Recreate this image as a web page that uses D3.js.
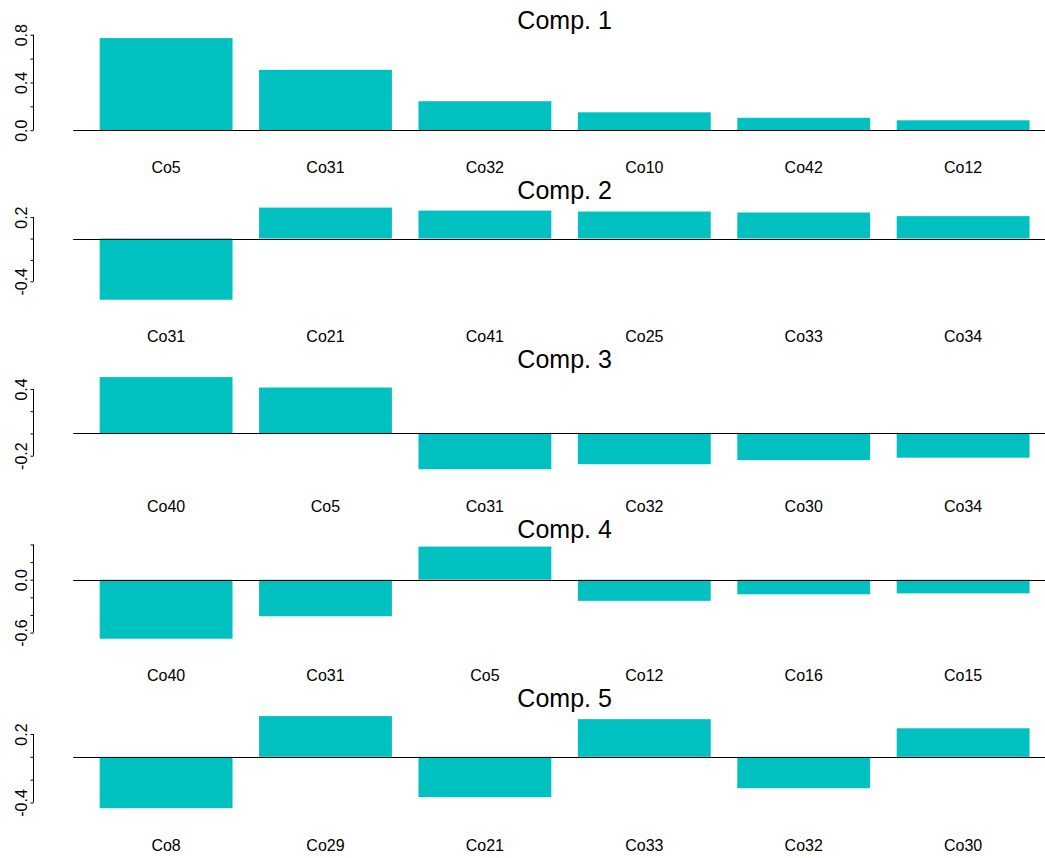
<!DOCTYPE html>
<html>
<head>
<meta charset="utf-8">
<script src="https://cdn.jsdelivr.net/npm/d3@7"></script>
<style>
  html, body { margin: 0; padding: 0; background: #fff; }
  svg { display: block; }
  text { font-family: "Liberation Sans", Arial, sans-serif; fill: #000; }
</style>
</head>
<body>
<svg id="chart" width="1045" height="858"></svg>
<script>
// Top six loadings (by absolute size) for each principal component
const componentTitles = ["Comp. 1", "Comp. 2", "Comp. 3", "Comp. 4", "Comp. 5"];

const comp1Names = ["Co5", "Co31", "Co32", "Co10", "Co42", "Co12"];
const comp1Values = [0.772, 0.506, 0.243, 0.150, 0.104, 0.083];

const comp2Names = ["Co31", "Co21", "Co41", "Co25", "Co33", "Co34"];
const comp2Values = [-0.572, 0.289, 0.261, 0.252, 0.243, 0.209];

const comp3Names = ["Co40", "Co5", "Co31", "Co32", "Co30", "Co34"];
const comp3Values = [0.507, 0.413, -0.322, -0.277, -0.240, -0.218];

const comp4Names = ["Co40", "Co31", "Co5", "Co12", "Co16", "Co15"];
const comp4Values = [-0.670, -0.415, 0.376, -0.240, -0.166, -0.155];

const comp5Names = ["Co8", "Co29", "Co21", "Co33", "Co32", "Co30"];
const comp5Values = [-0.450, 0.357, -0.353, 0.330, -0.275, 0.250];

// y-axis tick positions and the subset that carries a label
const comp1Ticks = [0.0, 0.2, 0.4, 0.6, 0.8];
const comp1TickLabels = [0.0, 0.4, 0.8];
const comp2Ticks = [-0.4, -0.2, 0.0, 0.2];
const comp2TickLabels = [-0.4, 0.2];
const comp3Ticks = [-0.2, 0.0, 0.2, 0.4];
const comp3TickLabels = [-0.2, 0.4];
const comp4Ticks = [-0.6, -0.4, -0.2, 0.0, 0.2, 0.4];
const comp4TickLabels = [-0.6, 0.0];
const comp5Ticks = [-0.4, -0.2, 0.0, 0.2];
const comp5TickLabels = [-0.4, 0.2];

const panels = [
  { names: comp1Names, values: comp1Values, ticks: comp1Ticks, labels: comp1TickLabels },
  { names: comp2Names, values: comp2Values, ticks: comp2Ticks, labels: comp2TickLabels },
  { names: comp3Names, values: comp3Values, ticks: comp3Ticks, labels: comp3TickLabels },
  { names: comp4Names, values: comp4Values, ticks: comp4Ticks, labels: comp4TickLabels },
  { names: comp5Names, values: comp5Values, ticks: comp5Ticks, labels: comp5TickLabels }
];

const W = 1045;
const barFill = "#00c1c0";
const firstTop = 34.4, panelStep = 169.5, plotH = 99.5;
const plotLeft = 73.1, plotRight = 1056.1;
const axisX = 33.5;
// plain hyphen for negative numbers
const fmt = d => (Math.abs(d) < 1e-9 ? 0 : d).toFixed(1);

const svg = d3.select("#chart");

panels.forEach((p, i) => {
  const top = firstTop + panelStep * i;
  const bottom = top + plotH;

  // barplot-style limits: range including zero, padded 4% each side
  const lo = Math.min(0, d3.min(p.values));
  const hi = Math.max(0, d3.max(p.values));
  const pad = (hi - lo) * 0.04;
  const y = d3.scaleLinear().domain([lo - pad, hi + pad]).range([bottom, top]);

  const x = d3.scaleBand()
    .domain(p.names)
    .range([plotLeft, plotRight])
    .paddingInner(0.2 / 1.2)
    .paddingOuter(0.2 / 1.2);

  const g = svg.append("g").attr("class", "panel");

  // bars
  g.selectAll("rect.bar")
    .data(p.values.map((v, k) => ({ name: p.names[k], value: v })))
    .join("rect")
    .attr("class", "bar")
    .attr("x", d => x(d.name))
    .attr("width", x.bandwidth())
    .attr("y", d => y(Math.max(0, d.value)))
    .attr("height", d => Math.abs(y(d.value) - y(0)))
    .attr("fill", barFill);

  // zero line across the plot region
  g.append("line")
    .attr("x1", plotLeft).attr("x2", Math.min(plotRight, W))
    .attr("y1", Math.round(y(0)) + 0.5).attr("y2", Math.round(y(0)) + 0.5)
    .attr("stroke", "#000").attr("stroke-width", 1);

  // category labels below each bar
  g.selectAll("text.cat")
    .data(p.names)
    .join("text")
    .attr("class", "cat")
    .attr("x", d => x(d) + x.bandwidth() / 2)
    .attr("y", bottom + 38.8)
    .attr("text-anchor", "middle")
    .attr("font-size", 16)
    .text(d => d);

  // panel title
  g.append("text")
    .attr("x", (plotLeft + plotRight) / 2)
    .attr("y", top - 5)
    .attr("text-anchor", "middle")
    .attr("font-size", 25)
    .text(componentTitles[i]);

  // y axis: ticks to the left, rotated labels
  const axis = d3.axisLeft(y)
    .tickValues(p.ticks)
    .tickSize(3)
    .tickPadding(4)
    .tickFormat(d => p.labels.some(l => Math.abs(l - d) < 1e-9) ? fmt(d) : "");

  const ax = g.append("g")
    .attr("transform", `translate(${axisX},0)`)
    .call(axis);

  ax.select(".domain")
    .attr("d", `M0,${y(d3.max(p.ticks))}V${y(d3.min(p.ticks))}`)
    .attr("stroke", "#000");
  ax.selectAll(".tick line").attr("stroke", "#000");
  ax.selectAll(".tick text")
    .attr("font-size", 16)
    .attr("font-family", "Liberation Sans, Arial, sans-serif")
    .attr("fill", "#000")
    .attr("x", null).attr("dy", null)
    .attr("transform", "translate(-6.8,0) rotate(-90)")
    .attr("text-anchor", "middle");
});
</script>
</body>
</html>
